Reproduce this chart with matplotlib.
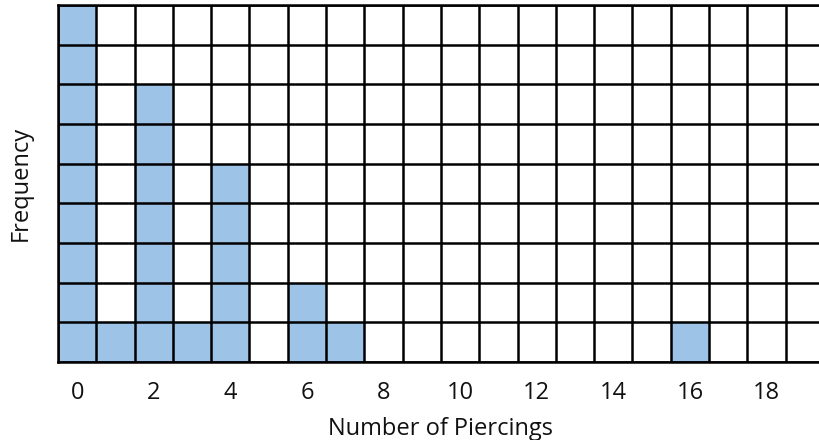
import matplotlib
matplotlib.use("Agg")
import matplotlib.pyplot as plt
import numpy as np

# Data
piercings = list(range(20))
frequency = [9, 1, 7, 1, 5, 0, 2, 1, 0, 0, 0, 0, 0, 0, 0, 0, 1, 0, 0, 0]
tick_values = [0, 2, 4, 6, 8, 10, 12, 14, 16, 18]
x_label = "Number of Piercings"
y_label = "Frequency"

plt.rcParams['font.family'] = ['Open Sans', 'DejaVu Sans']

W, H = 820, 440
fig = plt.figure(figsize=(W / 100, H / 100), dpi=100)
left, right, top, bottom = 58, 824, 5, 362
ax = fig.add_axes([left / W, 1 - bottom / H, (right - left) / W, (bottom - top) / H])

ax.bar(piercings, frequency, width=1.0, color='#9DC3E6', edgecolor='none', zorder=1)

ax.set_xlim(-0.5, len(piercings) - 0.5)
ax.set_ylim(0, 9)

# grid cells
ax.set_xticks(np.arange(-0.5, len(piercings), 1.0), minor=True)
ax.set_yticks(np.arange(0, 10, 1))
ax.set_yticklabels([])
ax.set_xticks(tick_values)
ax.set_xticklabels([str(v) for v in tick_values], fontsize=17, color='#111111')
lw = 1.8
ax.grid(which='minor', axis='x', color='black', linewidth=lw, zorder=3)
ax.grid(which='major', axis='y', color='black', linewidth=lw, zorder=3)
ax.set_axisbelow(False)
ax.tick_params(axis='both', which='both', length=0)
ax.tick_params(axis='x', pad=14)

for side in ['left', 'bottom', 'top']:
    ax.spines[side].set_color('black')
    ax.spines[side].set_linewidth(lw)
ax.spines['right'].set_visible(False)

ax.set_xlabel(x_label, fontsize=17, color='#111111', labelpad=8)
ax.set_ylabel(y_label, fontsize=17, color='#111111', labelpad=15)

fig.savefig("out.png", dpi=100)
